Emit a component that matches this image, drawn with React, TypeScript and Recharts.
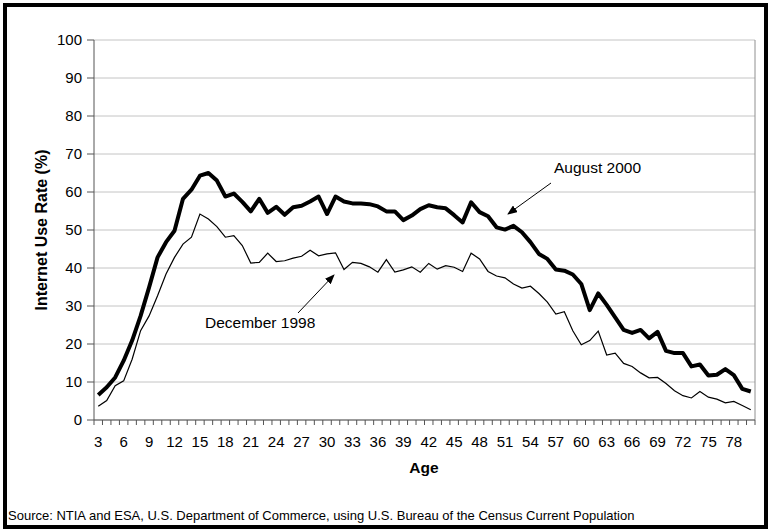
import { LineChart, Line, XAxis, YAxis, CartesianGrid, ReferenceLine, Customized } from "recharts";

const ages = [3, 4, 5, 6, 7, 8, 9, 10, 11, 12, 13, 14, 15, 16, 17, 18, 19, 20, 21, 22, 23, 24, 25, 26, 27, 28, 29, 30, 31, 32, 33, 34, 35, 36, 37, 38, 39, 40, 41, 42, 43, 44, 45, 46, 47, 48, 49, 50, 51, 52, 53, 54, 55, 56, 57, 58, 59, 60, 61, 62, 63, 64, 65, 66, 67, 68, 69, 70, 71, 72, 73, 74, 75, 76, 77, 78, 79, 80];

const aug2000 = [6.6, 8.6, 11.2, 15.6, 20.9, 27.4, 34.9, 42.8, 46.8, 49.8, 58.2, 60.6, 64.3, 65.0, 63.0, 58.8, 59.6, 57.4, 54.9, 58.2, 54.5, 56.1, 54.0, 56.0, 56.4, 57.5, 58.8, 54.2, 58.8, 57.5, 57.0, 57.0, 56.8, 56.2, 54.9, 54.9, 52.6, 53.8, 55.5, 56.5, 56.0, 55.7, 53.9, 52.0, 57.3, 54.7, 53.6, 50.7, 50.1, 51.1, 49.4, 46.8, 43.7, 42.4, 39.6, 39.3, 38.3, 35.8, 28.9, 33.3, 30.3, 27.0, 23.7, 22.9, 23.7, 21.5, 23.2, 18.2, 17.6, 17.6, 14.1, 14.6, 11.7, 11.9, 13.4, 11.8, 8.2, 7.5];

const dec1998 = [3.6, 5.1, 9.0, 10.3, 16.0, 23.5, 27.4, 32.7, 38.4, 42.8, 46.3, 48.1, 54.2, 52.9, 50.9, 48.1, 48.5, 45.9, 41.3, 41.5, 43.9, 41.7, 41.9, 42.6, 43.1, 44.7, 43.2, 43.7, 44.0, 39.6, 41.5, 41.2, 40.3, 38.9, 42.2, 38.9, 39.5, 40.3, 38.9, 41.2, 39.7, 40.6, 40.2, 39.1, 43.9, 42.4, 39.1, 37.9, 37.4, 35.8, 34.7, 35.2, 33.3, 31.0, 27.9, 28.5, 23.5, 19.8, 20.9, 23.4, 17.1, 17.6, 14.9, 14.1, 12.4, 11.1, 11.2, 9.6, 7.7, 6.4, 5.8, 7.5, 6.0, 5.5, 4.5, 4.9, 3.8, 2.7];

const xTickLabels = [3, 6, 9, 12, 15, 18, 21, 24, 27, 30, 33, 36, 39, 42, 45, 48, 51, 54, 57, 60, 63, 66, 69, 72, 75, 78];
const yTicks = [0, 10, 20, 30, 40, 50, 60, 70, 80, 90, 100];

const data = ages.map((age, i) => ({ age, aug: aug2000[i], dec: dec1998[i] }));
// excel puts category ticks between the categories
const bounds = [...ages.map((a) => a - 0.5), ages[ages.length - 1] + 0.5];
const domain = [bounds[0], bounds[bounds.length - 1]];

const font = "'Liberation Sans', Arial, sans-serif";

function Notes() {
  return (
    <g fontFamily={font} fill="#000">
      <defs>
        <marker id="ah" markerWidth="10" markerHeight="8" refX="9" refY="4" orient="auto" markerUnits="userSpaceOnUse">
          <path d="M0,0 L10,4 L0,8 z" fill="#000" />
        </marker>
      </defs>
      <text x={554} y={173} fontSize={15.5}>August 2000</text>
      <line x1={551} y1={183} x2={508} y2={214} stroke="#000" strokeWidth={1} markerEnd="url(#ah)" />
      <text x={205} y={328} fontSize={15.5}>December 1998</text>
      <line x1={298} y1={313} x2={334} y2={275} stroke="#000" strokeWidth={1} markerEnd="url(#ah)" />
      <text transform="translate(47,230) rotate(-90)" textAnchor="middle" fontSize={16} fontWeight="bold">Internet Use Rate (%)</text>
      <text x={424} y={473} textAnchor="middle" fontSize={15.5} fontWeight="bold">Age</text>
      <text x={8} y={520} fontSize={13}>Source: NTIA and ESA, U.S. Department of Commerce, using U.S. Bureau of the Census Current Population</text>
    </g>
  );
}

export default function App() {
  return (
    <div style={{ position: "absolute", left: 0, top: 0, width: 771, height: 532, background: "#fff" }}>
      <LineChart width={771} height={532} data={data} margin={{ top: 40, right: 16, left: 34, bottom: 81 }}>
        <CartesianGrid xAxisId="lab" horizontal vertical={false} stroke="#c4c4c4" />
        <XAxis xAxisId="b" dataKey="age" type="number" domain={domain} ticks={bounds} interval={0} height={1}
          tickFormatter={() => ""} tickSize={5} axisLine={{ stroke: "#555" }} tickLine={{ stroke: "#555" }} />
        <XAxis xAxisId="lab" dataKey="age" type="number" domain={domain} ticks={xTickLabels} interval={0} height={30}
          axisLine={false} tickLine={false} tickSize={6} tickMargin={9}
          tick={{ fill: "#000", fontSize: 15, fontFamily: font }} />
        <YAxis domain={[0, 100]} ticks={yTicks} interval={0} width={60} tickSize={7} tickMargin={5}
          axisLine={{ stroke: "#555" }} tickLine={{ stroke: "#555" }}
          tick={{ fill: "#000", fontSize: 15, fontFamily: font }} />
        <ReferenceLine xAxisId="lab" x={domain[1]} stroke="#909090" />
        <Line xAxisId="lab" type="linear" dataKey="dec" stroke="#000" strokeWidth={1.2} dot={false} isAnimationActive={false} />
        <Line xAxisId="lab" type="linear" dataKey="aug" stroke="#000" strokeWidth={4} strokeLinejoin="round" dot={false} isAnimationActive={false} />
        <Customized component={<Notes />} />
      </LineChart>
      <div style={{ position: "absolute", left: 3, top: 3, width: 765, height: 526, border: "4px solid #000", boxSizing: "border-box", pointerEvents: "none" }} />
    </div>
  );
}
